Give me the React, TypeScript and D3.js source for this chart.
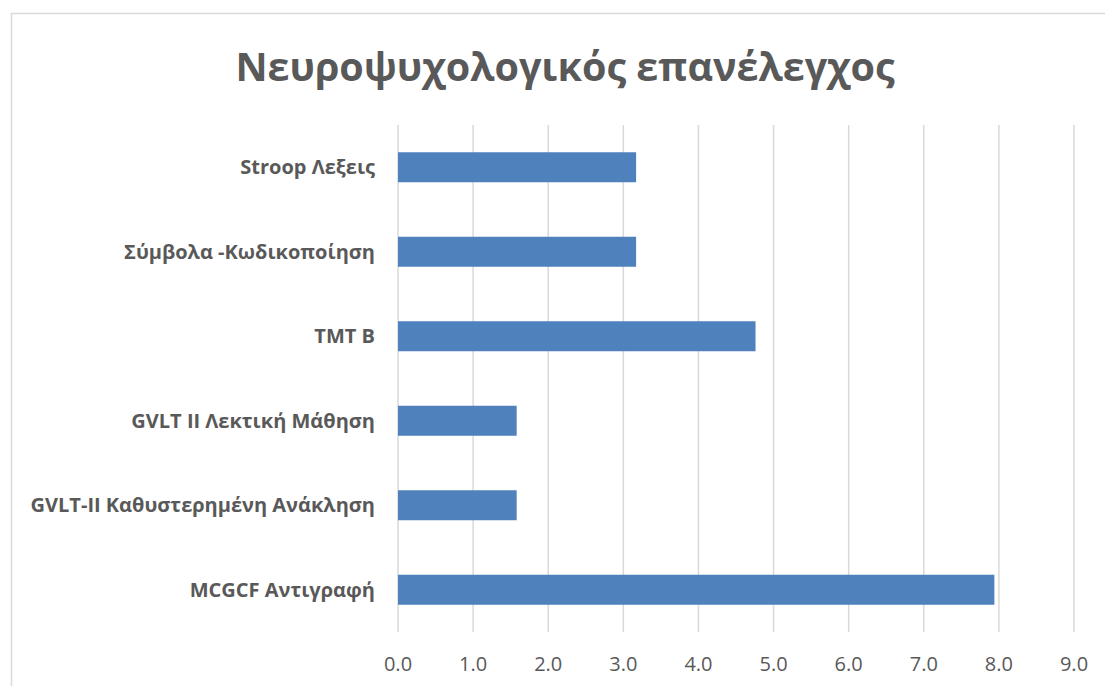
import React, { useEffect, useRef } from 'react';
import * as d3 from 'd3';

const categories = [
  'Stroop Λεξεις',
  'Σύμβολα -Κωδικοποίηση',
  'TMT B',
  'GVLT II Λεκτική Μάθηση',
  'GVLT-II Καθυστερημένη Ανάκληση',
  'MCGCF Αντιγραφή',
];
const values = [3.17, 3.17, 4.76, 1.58, 1.58, 7.94];
const xTicks = [0, 1, 2, 3, 4, 5, 6, 7, 8, 9];
const title = 'Νευροψυχολογικός επανέλεγχος';

const W = 1105;
const H = 686;
const FONT = '"Open Sans", "Noto Sans", sans-serif';
const GREY = '#595959';

export default function App() {
  const svgRef = useRef<SVGSVGElement>(null);

  useEffect(() => {
    const svg = d3.select(svgRef.current);
    if (!svg.node()) return;
    svg.selectAll('*').remove();

    const margin = { top: 125, right: 31, bottom: 54, left: 398 };
    const x = d3.scaleLinear().domain([0, 9]).range([margin.left, W - margin.right]);
    const y = d3.scaleBand()
      .domain(categories)
      .range([margin.top, H - margin.bottom])
      .paddingInner(0.645)
      .paddingOuter(0.3225);

    // chart frame
    svg.append('rect')
      .attr('x', 11.5).attr('y', 13.5)
      .attr('width', W + 20).attr('height', H + 20)
      .attr('fill', '#fff')
      .attr('stroke', '#d9d9d9')
      .attr('stroke-width', 1.5);

    svg.append('text')
      .attr('x', 565).attr('y', 81)
      .attr('text-anchor', 'middle')
      .attr('font-family', FONT)
      .attr('font-weight', 700)
      .attr('font-size', 39.5)
      .attr('fill', GREY)
      .text(title);

    // gridlines
    svg.append('g')
      .selectAll('line')
      .data(xTicks)
      .join('line')
      .attr('x1', d => x(d)).attr('x2', d => x(d))
      .attr('y1', margin.top).attr('y2', H - margin.bottom)
      .attr('stroke', '#d9d9d9')
      .attr('stroke-width', 1.5);

    // bars
    svg.append('g')
      .selectAll('rect')
      .data(values)
      .join('rect')
      .attr('x', x(0))
      .attr('y', (_, i) => y(categories[i])!)
      .attr('width', d => x(d) - x(0))
      .attr('height', y.bandwidth())
      .attr('fill', '#4f81bd');

    // category labels
    svg.append('g')
      .selectAll('text')
      .data(categories)
      .join('text')
      .attr('x', 375)
      .attr('y', d => y(d)! + y.bandwidth() / 2)
      .attr('dy', '0.35em')
      .attr('text-anchor', 'end')
      .attr('font-family', FONT)
      .attr('font-weight', 700)
      .attr('font-size', 20)
      .attr('fill', GREY)
      .text(d => d);

    // x tick labels
    svg.append('g')
      .selectAll('text')
      .data(xTicks)
      .join('text')
      .attr('x', d => x(d))
      .attr('y', 671)
      .attr('text-anchor', 'middle')
      .attr('font-family', FONT)
      .attr('font-size', 20)
      .attr('fill', GREY)
      .text(d => d3.format('.1f')(d));
  }, []);

  return (
    <svg
      ref={svgRef}
      width={W}
      height={H}
      style={{ position: 'absolute', left: 0, top: 0, display: 'block' }}
    />
  );
}
